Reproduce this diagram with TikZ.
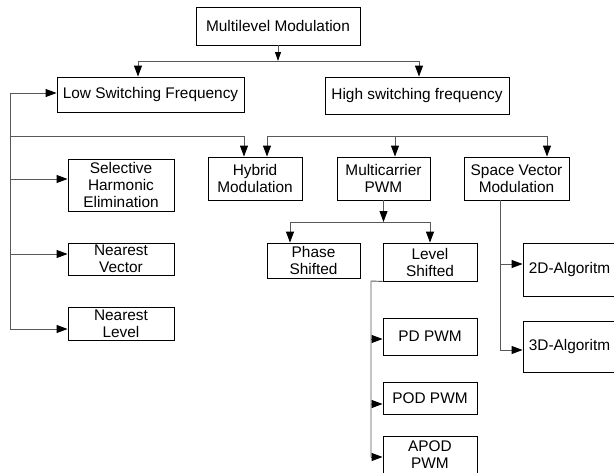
\documentclass[tikz,border=0pt]{standalone}
\usepackage{fontspec}
\setmainfont{Liberation Sans}
\usetikzlibrary{arrows.meta}
\newcommand{\boxfont}{\fontsize{15.4}{17}\selectfont}
\tikzset{
  box/.style={draw=black, line width=0.9pt, fill=white, inner sep=0pt, align=center, font=\boxfont},
  conn/.style={draw=black!65, line width=0.9pt},
  arr/.style={conn, -{Triangle[length=11pt,width=8pt,fill=black,color=black]}},
  smallarr/.style={conn, -{Triangle[length=9pt,width=6pt,fill=black,color=black]}}
}
\begin{document}
\begin{tikzpicture}[x=1pt,y=-1pt]
\useasboundingbox (0,0) rectangle (614,472);
\clip (0,0) rectangle (614,472);
\fill[white] (0,0) rectangle (614,472);
% nodes
\node[box, minimum width=164, minimum height=38] (top) at (278,26) {Multilevel Modulation};
\node[box, minimum width=187, minimum height=35] (low) at (150.5,94.5) {Low Switching Frequency};
\node[box, minimum width=184, minimum height=37] (high) at (417,95.5) {High switching frequency};
\node[box, minimum width=94, minimum height=43] (hyb) at (255,178.5) {Hybrid\\Modulation};
\node[box, minimum width=93, minimum height=43] (mc) at (383.5,178.5) {Multicarrier\\PWM};
\node[box, minimum width=105, minimum height=43] (svm) at (516.5,178.5) {Space Vector\\Modulation};
\node[box, minimum width=106, minimum height=52] (she) at (121,185) {Selective\\Harmonic\\Elimination};
\node[box, minimum width=106, minimum height=32] (nv) at (121,259) {Nearest\\Vector};
\node[box, minimum width=106, minimum height=33] (nl) at (121,323.5) {Nearest\\Level};
\node[box, minimum width=93, minimum height=35] (ps) at (313.5,260.5) {Phase\\Shifted};
\node[box, minimum width=94, minimum height=38] (ls) at (430,262) {Level\\Shifted};
\node[box, minimum width=94, minimum height=37] (pd) at (430,336.5) {PD PWM};
\node[box, minimum width=94, minimum height=32] (pod) at (430,398) {POD PWM};
\node[box, minimum width=94, minimum height=38] (apod) at (430,455) {APOD\\PWM};
\node[box, minimum width=93, minimum height=53] (twod) at (569.5,269.5) {2D-Algoritm};
\node[box, minimum width=93, minimum height=51] (threed) at (569.5,346.5) {3D-Algoritm};
% coordinates
\coordinate (j1) at (278,61);
\coordinate (bl) at (138,61);
\coordinate (br) at (419,61);
\coordinate (lt) at (10,93);
\coordinate (lm) at (10,136);
\coordinate (lh) at (244,136);
\coordinate (ls1) at (10,179);
\coordinate (ls2) at (10,254);
\coordinate (lb) at (10,329);
\coordinate (b2l) at (267,136);
\coordinate (b2m) at (395,136);
\coordinate (b2r) at (547,136);
\coordinate (m1) at (383.5,222);
\coordinate (pl) at (290,222);
\coordinate (lsx) at (371,281);
\coordinate (q1) at (371,339);
\coordinate (q2) at (371,404);
\coordinate (q3) at (371,457);
\coordinate (sx) at (500,200);
\coordinate (s1) at (500,264);
\coordinate (s2) at (500,350);
% connectors
\draw[smallarr] (top.south) -- (j1);
\draw[arr] (j1) -| (low.north -| bl);
\draw[arr] (j1) -| (high.north -| br);
\draw[conn] (lt) -- (lb);
\draw[arr] (lt) -- (lt -| low.west);
\draw[arr] (lm) -| (hyb.north -| lh);
\draw[arr] (ls1) -- (ls1 -| she.west);
\draw[arr] (ls2) -- (ls2 -| nv.west);
\draw[arr] (lb) -- (lb -| nl.west);
\draw[conn] (b2l) -- (b2r);
\draw[arr] (b2l) -- (b2l |- hyb.north);
\draw[arr] (b2m) -- (b2m |- mc.north);
\draw[arr] (b2r) -- (b2r |- svm.north);
\draw[arr] (mc.south) -- (m1);
\draw[arr] (m1) -| (ps.north -| pl);
\draw[arr] (m1) -| (ls.north);
\draw[conn] (ls.south west) -- (lsx) -- (q3);
\draw[arr] (q1) -- (q1 -| pd.west);
\draw[arr] (q2) -- (q2 -| pod.west);
\draw[arr] (q3) -- (q3 -| apod.west);
\draw[conn] (sx) -- (s2);
\draw[arr] (s1) -- (s1 -| twod.west);
\draw[arr] (s2) -- (s2 -| threed.west);
\end{tikzpicture}
\end{document}
